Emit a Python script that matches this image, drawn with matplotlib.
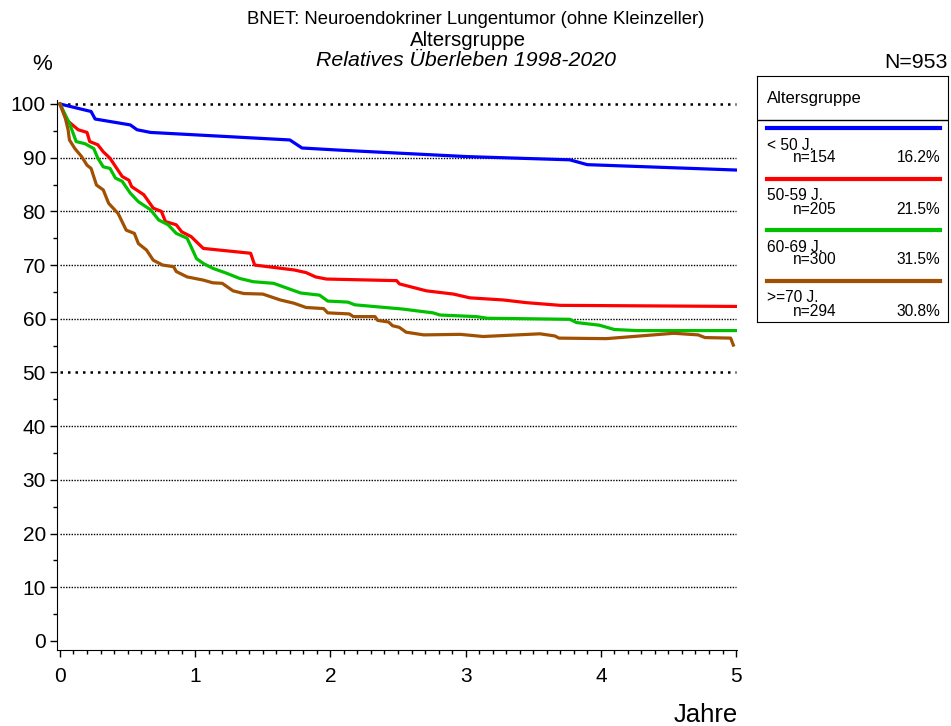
import matplotlib.pyplot as plt
from matplotlib.ticker import MultipleLocator

plt.rcParams['font.family'] = ['Liberation Sans', 'DejaVu Sans']

# survival curves (years, %)
t_u50 = [0, 0.23, 0.26, 0.52, 0.57, 0.67, 1.70, 1.79, 2.07, 3.01, 3.77, 3.90, 5.0]
s_u50 = [100, 98.6, 97.2, 96.1, 95.2, 94.7, 93.3, 91.8, 91.4, 90.2, 89.6, 88.7, 87.7]

t_5059 = [0, 0.05, 0.135, 0.20, 0.22, 0.28, 0.32, 0.37, 0.42, 0.46, 0.51, 0.53, 0.62, 0.69,
          0.75, 0.78, 0.86, 0.90, 0.97, 1.06, 1.41, 1.44, 1.73, 1.82, 1.89, 1.97, 2.49, 2.51,
          2.71, 2.91, 3.03, 3.28, 3.45, 3.70, 5.0]
s_5059 = [100, 97.0, 95.2, 94.7, 93.0, 92.4, 91.1, 89.9, 88.0, 86.5, 85.8, 84.6, 83.1, 80.6,
          80.0, 78.1, 77.5, 76.2, 75.3, 73.1, 72.2, 70.0, 69.1, 68.6, 67.8, 67.4, 67.1, 66.5,
          65.2, 64.6, 63.9, 63.5, 63.0, 62.5, 62.3]

t_6069 = [0, 0.07, 0.12, 0.185, 0.25, 0.28, 0.32, 0.37, 0.41, 0.46, 0.52, 0.58, 0.67, 0.73,
          0.80, 0.86, 0.94, 0.97, 1.01, 1.06, 1.13, 1.23, 1.33, 1.43, 1.58, 1.68, 1.78, 1.92,
          1.98, 2.13, 2.18, 2.54, 2.63, 2.76, 2.81, 3.08, 3.16, 3.77, 3.82, 3.99, 4.10, 4.27, 5.0]
s_6069 = [100, 96.4, 93.0, 92.6, 91.7, 89.9, 88.3, 88.0, 86.2, 85.6, 83.4, 81.8, 80.3, 78.4,
          77.5, 75.9, 75.0, 73.4, 71.2, 70.3, 69.4, 68.5, 67.5, 66.9, 66.6, 65.7, 64.8, 64.4,
          63.3, 63.1, 62.6, 61.8, 61.5, 61.1, 60.7, 60.4, 60.1, 59.9, 59.3, 58.8, 58.0, 57.8, 57.8]

t_o70 = [0, 0.04, 0.06, 0.07, 0.11, 0.16, 0.20, 0.23, 0.27, 0.32, 0.36, 0.43, 0.49, 0.55,
         0.58, 0.64, 0.69, 0.76, 0.84, 0.86, 0.94, 1.06, 1.13, 1.20, 1.28, 1.36, 1.50, 1.63,
         1.73, 1.82, 1.95, 1.98, 2.14, 2.17, 2.33, 2.35, 2.43, 2.46, 2.51, 2.56, 2.69, 2.96,
         3.13, 3.55, 3.66, 3.69, 4.04, 4.54, 4.72, 4.77, 4.96, 4.98]
s_o70 = [100, 97.3, 95.2, 93.3, 91.7, 90.2, 88.6, 88.0, 84.9, 84.0, 81.5, 79.6, 76.5, 75.9,
         74.0, 72.8, 70.9, 70.0, 69.7, 68.8, 67.8, 67.2, 66.7, 66.6, 65.2, 64.7, 64.6, 63.5,
         62.9, 62.1, 61.9, 61.1, 60.9, 60.4, 60.4, 59.7, 59.4, 58.7, 58.4, 57.5, 57.0, 57.1,
         56.7, 57.2, 56.8, 56.4, 56.3, 57.3, 57.0, 56.5, 56.4, 55.1]

groups = ['< 50 J.', '50-59 J.', '60-69 J.', '>=70 J.']
counts = ['n=154', 'n=205', 'n=300', 'n=294']
shares = ['16.2%', '21.5%', '31.5%', '30.8%']
colors = ['#0000ff', '#ff0000', '#00c000', '#a05000']
curves = [(t_u50, s_u50), (t_5059, s_5059), (t_6069, s_6069), (t_o70, s_o70)]

W, H = 951, 726
fig = plt.figure(figsize=(W / 100, H / 100), dpi=100)
ax = fig.add_axes([57 / W, 1 - 650 / H, 680 / W, 550 / H])
ax.set_xlim(-0.022, 5.007)
ax.set_ylim(-1.68, 100.74)

# dotted reference lines, 50 and 100 heavier
for g in range(10, 101, 10):
    if g in (50, 100):
        ax.hlines(g, 0, 5, colors='black', linestyles=(0, (1, 2)), linewidth=1.8, zorder=1)
    else:
        ax.hlines(g, 0, 5, colors='black', linestyles=(0, (1, 1)), linewidth=1.0, zorder=1)

for (t, s), c in zip(curves, colors):
    ax.plot(t, s, color=c, linewidth=2.3, zorder=3)

for side in ('top', 'right'):
    ax.spines[side].set_visible(False)
ax.xaxis.set_major_locator(MultipleLocator(1))
ax.xaxis.set_minor_locator(MultipleLocator(0.1))
ax.yaxis.set_major_locator(MultipleLocator(10))
ax.yaxis.set_minor_locator(MultipleLocator(5))
ax.tick_params(axis='both', which='major', length=5, width=1, labelsize=15)
ax.tick_params(axis='both', which='minor', length=3, width=1)
ax.tick_params(axis='x', pad=7)
ax.tick_params(axis='y', pad=3)

# titles and labels
fig.text(476 / W, 1 - 20 / H, 'BNET: Neuroendokriner Lungentumor (ohne Kleinzeller)',
         ha='center', va='center', fontsize=13.3)
fig.text(468 / W, 1 - 40 / H, 'Altersgruppe', ha='center', va='center', fontsize=14.8)
fig.text(466 / W, 1 - 61 / H, 'Relatives Überleben 1998-2020', ha='center', va='center',
         fontsize=15.3, style='italic')
fig.text(42 / W, 1 - 64 / H, '%', ha='center', va='center', fontsize=16)
fig.text(948 / W, 1 - 62 / H, 'N=953', ha='right', va='center', fontsize=15.3)
fig.text(706 / W, 1 - 715 / H, 'Jahre', ha='center', va='center', fontsize=18.5)

# legend box
lg = fig.add_axes([757 / W, 1 - 322 / H, 191 / W, 246 / H])
lg.set_xlim(0, 191)
lg.set_ylim(246, 0)
lg.set_xticks([])
lg.set_yticks([])
lg.text(10, 23, 'Altersgruppe', ha='left', va='center', fontsize=12)
lg.axhline(44, color='black', linewidth=1.0)
for i, (g, n, p, c) in enumerate(zip(groups, counts, shares, colors)):
    y0 = 52 + i * 51
    lg.plot([10, 183], [y0, y0], color=c, linewidth=3)
    lg.text(10, y0 + 17, g, ha='left', va='center', fontsize=11.2)
    lg.text(36, y0 + 30, n, ha='left', va='center', fontsize=11.2)
    lg.text(183, y0 + 30, p, ha='right', va='center', fontsize=11.2)

fig.savefig('out.png', dpi=100)
